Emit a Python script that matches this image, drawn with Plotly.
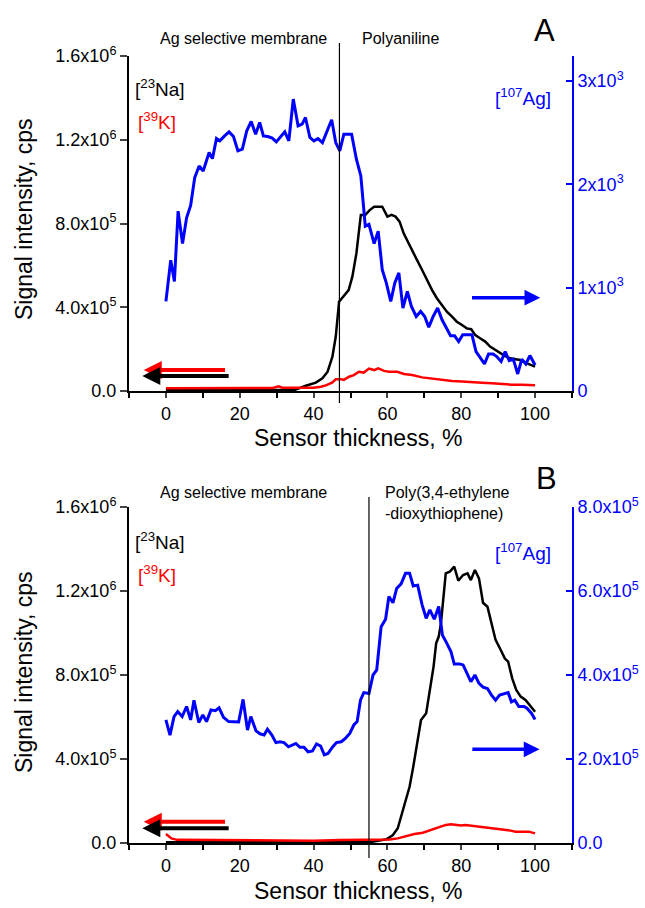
import plotly.graph_objects as go

# ---------------- Panel A (Polyaniline) ----------------
x_ag_a = [0, 1.3, 2.3, 3.3, 4.5, 5.6, 6.7, 7.8, 9.0, 10.1, 11.7, 12.6, 13.7, 14.6, 15.9, 17.1, 18.3, 19.5,
          20.7, 21.9, 23.1, 24.3, 25.4, 26.4, 27.6, 28.8, 29.9, 30.9, 32.2, 33.3, 34.5, 35.8, 36.9, 37.8,
          39.0, 40.1, 41.2, 42.4, 43.7, 44.9, 46.0, 47.1, 48.2, 50.3, 51.6, 52.8, 54.0, 55.0, 56.4, 57.5,
          58.6, 59.7, 60.9, 62.0, 63.1, 64.2, 65.4, 66.5, 67.8, 69.0, 70.1, 71.2, 72.4, 73.6, 74.8, 75.9,
          77.1, 78.2, 79.3, 80.4, 81.6, 82.9, 84.0, 85.2, 86.3, 87.4, 88.6, 89.6, 90.8, 91.9, 93.0, 94.1,
          95.3, 96.4, 97.5, 98.6, 100]
ag_a = [867, 1265, 1061, 1741, 1427, 1676, 1796, 2065, 2178, 2129, 2308, 2249, 2443, 2421, 2469, 2508, 2463, 2324,
        2340, 2518, 2608, 2485, 2599, 2469, 2463, 2447, 2411, 2453, 2508, 2421, 2825, 2566, 2583, 2647,
        2453, 2421, 2443, 2404, 2518, 2625, 2404, 2324, 2485, 2485, 2243, 2081, 1595, 1612, 1427, 1547,
        1175, 1046, 867, 1046, 1143, 803, 964, 818, 721, 770, 721, 618, 721, 803, 689, 608,
        534, 534, 479, 544, 544, 544, 382, 317, 262, 359, 359, 333, 285, 382, 294, 308,
        165, 308, 262, 343, 252]

x_na_a = [0, 10, 20, 30, 35, 37.9, 40.6, 42.4, 43.8, 45.1, 46.0, 46.9, 48.0, 49.5, 50.5, 51.6, 52.8, 54.0,
          55.2, 56.4, 57.5, 58.6, 60.0, 61.1, 62.2, 63.3, 64.4, 65.6, 66.7, 68.0, 69.4, 70.7, 72.1, 73.4,
          74.8, 76.1, 77.5, 78.8, 80.2, 81.5, 82.7, 83.8, 85.1, 86.5, 87.8, 89.2, 90.5, 91.9, 93.2, 94.6,
          95.9, 97.3, 98.6, 100]
na_a = [3e3, 3e3, 3e3, 4e3, 6e3, 25e3, 40e3, 61e3, 92e3, 164e3, 259e3, 426e3, 451e3, 482e3, 546e3, 658e3, 841e3, 841e3,
        864e3, 880e3, 880e3, 880e3, 833e3, 841e3, 833e3, 809e3, 753e3, 713e3, 673e3, 626e3, 578e3, 530e3, 482e3, 443e3,
        411e3, 379e3, 355e3, 331e3, 315e3, 299e3, 295e3, 267e3, 252e3, 236e3, 212e3, 196e3, 180e3, 167e3, 156e3, 151e3,
        148e3, 135e3, 124e3, 116e3]

x_k_a = [0, 5, 10, 15, 20, 25, 29, 30.5, 31.5, 33, 36, 40, 42, 43.5, 45, 46, 47.5, 48.2, 49.6, 50.9, 52.3,
         53.6, 55.0, 56.4, 57.5, 59.1, 60.4, 62.7, 64.5, 66.7, 69.4, 72.1, 74.8, 77.5, 80.2, 82.9, 85.6,
         88.3, 91.0, 93.7, 96.4, 100]
k_a = [13e3, 13e3, 13e3, 13e3, 14e3, 14e3, 14e3, 22e3, 16e3, 15e3, 15e3, 16e3, 20e3, 28e3, 40e3, 56e3, 56e3, 53e3,
       68e3, 76e3, 92e3, 88e3, 107e3, 100e3, 108e3, 96e3, 92e3, 92e3, 81e3, 76e3, 65e3, 59e3, 53e3, 48e3, 45e3,
       41e3, 40e3, 37e3, 33e3, 30e3, 30e3, 27e3]

# ---------------- Panel B (PEDOT) ----------------
x_ag_b = [0, 1.1, 2.2, 3.2, 4.4, 5.6, 6.7, 7.6, 8.9, 10.0, 11.0, 12.2, 13.4, 14.4, 15.6, 17.0, 19.7, 20.9,
          22.1, 23.0, 24.4, 25.5, 26.6, 27.5, 28.7, 29.8, 30.9, 32.0, 33.2, 34.1, 35.2, 36.3, 37.4, 38.5,
          39.7, 40.8, 41.9, 42.9, 43.9, 45.1, 46.2, 47.5, 48.6, 49.8, 50.9, 51.8, 52.7, 53.6, 55.0, 56.1,
          57.1, 58.3, 59.5, 60.4, 61.5, 62.5, 63.7, 64.9, 66.0, 67.0, 68.2, 69.4, 70.5, 71.5, 72.7, 73.9,
          74.9, 76.0, 77.2, 78.1, 79.6, 80.5, 81.7, 82.6, 83.7, 84.8, 85.9, 87.1, 88.2, 89.3, 90.4, 91.6,
          92.7, 93.6, 94.5, 95.6, 97.0, 97.8, 99.0, 100]
ag_b = [293e3, 257e3, 301e3, 313e3, 301e3, 325e3, 293e3, 340e3, 287e3, 305e3, 289e3, 317e3, 315e3, 322e3, 299e3,
        289e3, 288e3, 342e3, 269e3, 301e3, 267e3, 260e3, 257e3, 271e3, 257e3, 239e3, 241e3, 239e3, 229e3, 233e3,
        237e3, 228e3, 228e3, 217e3, 219e3, 236e3, 231e3, 210e3, 213e3, 228e3, 239e3, 241e3, 249e3, 261e3, 281e3,
        289e3, 340e3, 358e3, 356e3, 400e3, 412e3, 515e3, 533e3, 587e3, 572e3, 606e3, 617e3, 642e3, 642e3, 612e3,
        614e3, 567e3, 535e3, 555e3, 533e3, 563e3, 495e3, 477e3, 456e3, 426e3, 426e3, 424e3, 400e3, 384e3, 400e3,
        380e3, 371e3, 368e3, 352e3, 340e3, 352e3, 356e3, 358e3, 336e3, 340e3, 325e3, 325e3, 321e3, 309e3, 294e3]

x_na_b = [0, 20, 40, 55, 59.7, 61.5, 62.8, 63.7, 64.9, 66.0, 67.0, 68.2, 69.1, 70.5, 71.3, 72.5, 73.2, 73.9,
          74.5, 75.1, 75.8, 76.9, 78.1, 79.2, 80.5, 81.7, 82.6, 83.7, 84.8, 85.9, 87.1, 88.2, 89.3, 90.7,
          91.8, 92.7, 93.8, 94.9, 96.1, 97.4, 98.8, 100]
na_b = [3e3, 3e3, 3e3, 3e3, 18e3, 38e3, 70e3, 125e3, 189e3, 268e3, 363e3, 482e3, 586e3, 618e3, 713e3, 840e3,
        951e3, 983e3, 1046e3, 1157e3, 1284e3, 1292e3, 1316e3, 1249e3, 1276e3, 1284e3, 1252e3, 1300e3, 1260e3,
        1144e3, 1125e3, 1046e3, 967e3, 919e3, 879e3, 864e3, 784e3, 729e3, 697e3, 681e3, 649e3, 625e3]

x_k_b = [0, 1.5, 3, 10, 20, 30, 40, 47.1, 52.5, 58.8, 60.6, 62.8, 65.1, 67.3, 69.6, 71.3, 73.2, 74.5, 75.8,
         77.2, 78.5, 79.9, 81.2, 82.6, 83.9, 85.7, 87.5, 89.3, 91.6, 93.4, 94.7, 96.5, 98.3, 100]
k_b = [43e3, 22e3, 15e3, 14e3, 12e3, 12e3, 11e3, 14e3, 14e3, 14e3, 17e3, 22e3, 33e3, 43e3, 49e3, 59e3, 70e3,
       78e3, 86e3, 89e3, 86e3, 83e3, 86e3, 83e3, 83e3, 78e3, 73e3, 68e3, 63e3, 59e3, 54e3, 54e3, 54e3, 46e3]

# layer boundaries (% thickness)
layer_a = 47
layer_b = 55

left_vals = [0, 4e5, 8e5, 1.2e6, 1.6e6]
left_text = ["0.0", "4.0x10<sup>5</sup>", "8.0x10<sup>5</sup>", "1.2x10<sup>6</sup>", "1.6x10<sup>6</sup>"]
right_a_vals = [0, 1e3, 2e3, 3e3]
right_a_text = ["0", "1x10<sup>3</sup>", "2x10<sup>3</sup>", "3x10<sup>3</sup>"]
right_b_vals = [0, 2e5, 4e5, 6e5, 8e5]
right_b_text = ["0.0", "2.0x10<sup>5</sup>", "4.0x10<sup>5</sup>", "6.0x10<sup>5</sup>", "8.0x10<sup>5</sup>"]

FONT = "Liberation Sans, Arial, sans-serif"
W, H = 645, 908


def px(x, y):
    # pixel position -> paper coords
    return x / W, 1 - y / H


fig = go.Figure()

# panel A
fig.add_trace(go.Scatter(x=x_na_a, y=na_a, mode="lines", line=dict(color="black", width=2.5), xaxis="x", yaxis="y"))
fig.add_trace(go.Scatter(x=x_k_a, y=k_a, mode="lines", line=dict(color="#ff0000", width=2.5), xaxis="x", yaxis="y"))
fig.add_trace(go.Scatter(x=x_ag_a, y=ag_a, mode="lines", line=dict(color="#0000ff", width=3), xaxis="x", yaxis="y2"))
# panel B
fig.add_trace(go.Scatter(x=x_na_b, y=na_b, mode="lines", line=dict(color="black", width=2.5), xaxis="x2", yaxis="y3"))
fig.add_trace(go.Scatter(x=x_k_b, y=k_b, mode="lines", line=dict(color="#ff0000", width=2.5), xaxis="x2", yaxis="y3"))
fig.add_trace(go.Scatter(x=x_ag_b, y=ag_b, mode="lines", line=dict(color="#0000ff", width=3), xaxis="x2", yaxis="y4"))

dom_x = [129 / W, 572 / W]
dom_a = [1 - 391 / H, 1 - 56 / H]
dom_b = [1 - 843 / H, 1 - 507 / H]

xax = dict(domain=dom_x, range=[-10, 110], tickvals=[0, 20, 40, 60, 80, 100], ticks="outside", ticklen=5,
           tickwidth=1.5, showline=True, linewidth=2, linecolor="black", showgrid=False, zeroline=False,
           automargin=False, tickfont=dict(size=18, color="black"),
           minor=dict(ticks="outside", dtick=10, tick0=0, ticklen=5, tickwidth=1.5, tickcolor="black", showgrid=False))
yleft = dict(range=[0, 1.6e6], tickvals=left_vals, ticktext=left_text, ticks="outside", ticklen=7, tickwidth=2,
             showline=True, linewidth=2, linecolor="black", showgrid=False, zeroline=False, automargin=False,
             tickfont=dict(size=18, color="black"))
yright = dict(side="right", ticks="inside", ticklen=6, tickwidth=2, showline=True, linewidth=2,
              linecolor="#0000ff", tickcolor="#0000ff", showgrid=False, zeroline=False, automargin=False,
              tickfont=dict(size=18, color="#0000ff"))

fig.update_layout(
    width=W, height=H, showlegend=False,
    margin=dict(l=0, r=0, t=0, b=0, pad=0, autoexpand=False),
    paper_bgcolor="white", plot_bgcolor="white",
    font=dict(family=FONT, color="black"),
    xaxis=dict(xax, anchor="y"),
    yaxis=dict(yleft, domain=dom_a, anchor="x"),
    yaxis2=dict(yright, range=[0, 3242], tickvals=right_a_vals, ticktext=right_a_text, overlaying="y", anchor="x"),
    xaxis2=dict(xax, anchor="y3"),
    yaxis3=dict(yleft, domain=dom_b, anchor="x2"),
    yaxis4=dict(yright, range=[0, 8e5], tickvals=right_b_vals, ticktext=right_b_text, overlaying="y3", anchor="x2"),
)

# layer boundary lines
fig.add_shape(type="line", xref="x", yref="paper", x0=layer_a, x1=layer_a, y0=px(0, 403)[1], y1=px(0, 43)[1],
              line=dict(color="black", width=1.2))
fig.add_shape(type="line", xref="x2", yref="paper", x0=layer_b, x1=layer_b, y0=px(0, 858)[1], y1=px(0, 497)[1],
              line=dict(color="black", width=1.2))


def label(x, y, text, size=16, color="black", xanchor="left", **kw):
    fx, fy = px(x, y)
    fig.add_annotation(x=fx, y=fy, xref="paper", yref="paper", text=text, showarrow=False,
                       xanchor=xanchor, yanchor="middle", font=dict(size=size, color=color, family=FONT), **kw)


for dy, top_label in [(0, "Polyaniline"), (453, "Poly(3,4-ethylene<br>-dioxythiophene)")]:
    label(243, 39 + dy, "Ag selective membrane", xanchor="center")
    if dy == 0:
        label(360, 39, top_label)
    else:
        label(383, 503, top_label, align="left")
    label(24, 219 + dy, "Signal intensity, cps", size=23, xanchor="center", textangle=-90)
    label(358, 438 + dy, "Sensor thickness, %", size=23, xanchor="center")
    label(133, 88 + dy, "[<sup>23</sup>Na]", size=19)
    label(136, 121 + dy, "[<sup>39</sup>K]", size=19, color="#ff0000")

label(553, 97, "[<sup>107</sup>Ag]", size=19, color="#0000ff", xanchor="right")
label(553, 552, "[<sup>107</sup>Ag]", size=19, color="#0000ff", xanchor="right")
label(544, 31, "A", size=31, xanchor="center")
label(546, 478, "B", size=31, xanchor="center")


def arrow(xr, yr, x_head, x_tail, y, color, width):
    fig.add_annotation(x=x_head, y=y, ax=x_tail, ay=y, xref=xr, yref=yr, axref=xr, ayref=yr, text="",
                       showarrow=True, arrowhead=2, arrowsize=0.9, arrowwidth=width, arrowcolor=color)


arrow("x", "y", -6, 16.4, 100e3, "#ff0000", 4)
arrow("x", "y", -6.4, 17.4, 72e3, "black", 4)
arrow("x", "y2", 101.4, 82.5, 903, "#0000ff", 3.5)
arrow("x2", "y3", -6, 16.4, 101e3, "#ff0000", 4)
arrow("x2", "y3", -6.4, 17.4, 70e3, "black", 4)
arrow("x2", "y4", 101.2, 82.6, 223e3, "#0000ff", 3.5)

fig.write_html("out.html", config={"displayModeBar": False},
               post_script="document.body.style.margin='0';")
